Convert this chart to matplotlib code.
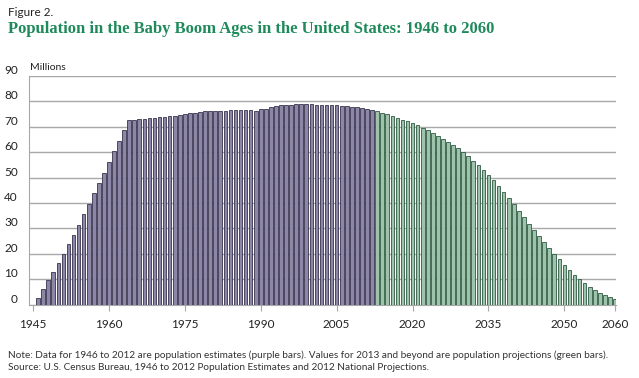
import matplotlib
matplotlib.use('Agg')
from matplotlib import pyplot as plt
from matplotlib.ticker import MultipleLocator

# population in baby boom ages, millions
est_years = list(range(1946, 2013))
est_values = [2.6, 6.1, 9.6, 13.0, 16.5, 20.0, 23.8, 27.5, 31.4, 35.6,
              39.6, 43.8, 47.9, 51.9, 56.2, 60.4, 64.4, 68.6, 72.6, 72.7,
              72.9, 73.0, 73.3, 73.4, 73.7, 73.9, 74.1, 74.3, 74.7, 75.0,
              75.3, 75.5, 75.8, 76.1, 76.2, 76.3, 76.4, 76.4, 76.6, 76.7,
              76.7, 76.6, 76.8, 76.1, 77.0, 77.2, 77.9, 78.3, 78.5, 78.6,
              78.7, 78.8, 78.8, 78.8, 78.8, 78.7, 78.7, 78.6, 78.5, 78.4,
              78.3, 78.1, 77.9, 77.7, 77.4, 77.1, 76.7]
proj_years = list(range(2013, 2061))
proj_values = [76.1, 75.6, 74.9, 74.4, 73.6, 72.8, 72.1, 71.4, 70.6, 69.7,
               68.8, 67.7, 66.5, 65.3, 64.2, 62.9, 61.5, 60.1, 58.4, 56.7,
               54.8, 53.0, 51.0, 48.9, 46.7, 44.4, 42.1, 39.5, 37.0, 34.4,
               31.9, 29.5, 27.0, 24.7, 22.3, 20.0, 17.8, 15.7, 13.8, 11.8,
               10.1, 8.6, 7.1, 5.8, 4.8, 3.9, 3.1, 2.3]
x_ticks = [1945, 1960, 1975, 1990, 2005, 2020, 2035, 2050, 2060]

plt.rcParams['font.family'] = ['Lato', 'DejaVu Sans']

fig = plt.figure(figsize=(6.39, 3.78), dpi=100)
ax = fig.add_axes([29 / 639, 1 - 304.7 / 378, 587 / 639, 228.7 / 378])

ax.bar(est_years, est_values, width=0.72, color='#8c87a6', edgecolor='#38334d', linewidth=0.6, zorder=3)
ax.bar(proj_years, proj_values, width=0.72, color='#9dc3aa', edgecolor='#2e5a42', linewidth=0.6, zorder=3)

ax.set_xlim(1944.2, 2060.2)
ax.set_ylim(0, 90)
ax.yaxis.set_major_locator(MultipleLocator(10))
ax.grid(axis='y', color='#a8a8a8', linewidth=1.0, zorder=0)
ax.set_xticks(x_ticks)

for side in ['top', 'right']:
    ax.spines[side].set_visible(False)
ax.spines['left'].set_color('#a8a8a8')
ax.spines['bottom'].set_color('#a8a8a8')
ax.tick_params(axis='x', length=4, color='#a8a8a8', labelsize=8.5, pad=6, labelcolor='#222222')
ax.tick_params(axis='y', length=0, labelsize=8.5, pad=8, labelcolor='#222222')
for lab in ax.get_yticklabels():
    lab.set_verticalalignment('bottom')

fig.text(30 / 639, 1 - 67 / 378, 'Millions', fontsize=7.5, color='#222222', va='center')
fig.text(8 / 639, 1 - 12 / 378, 'Figure 2.', fontsize=8.5, color='#222222', va='center')
fig.text(8 / 639, 1 - 29 / 378, 'Population in the Baby Boom Ages in the United States: 1946 to 2060',
         fontsize=12, fontweight='bold', family='Liberation Serif', color='#1e8a5a', va='center')
fig.text(8 / 639, 1 - 355 / 378,
         'Note: Data for 1946 to 2012 are population estimates (purple bars). Values for 2013 and beyond are population projections (green bars).',
         fontsize=7.2, color='#333333', va='center')
fig.text(8 / 639, 1 - 367 / 378,
         'Source: U.S. Census Bureau, 1946 to 2012 Population Estimates and 2012 National Projections.',
         fontsize=7.2, color='#333333', va='center')

plt.savefig('out.png', dpi=100)
